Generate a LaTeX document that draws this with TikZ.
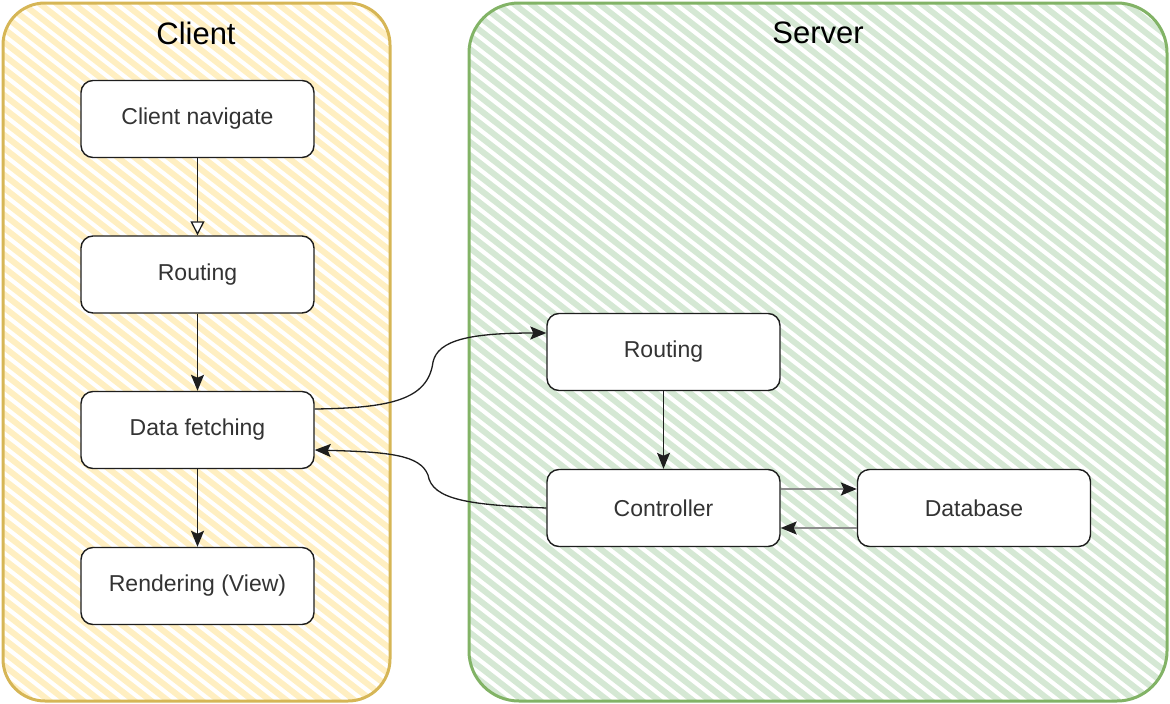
\documentclass[tikz,border=0pt]{standalone}
\usepackage{fontspec}
\setmainfont{Liberation Sans}
\usetikzlibrary{arrows.meta}
\definecolor{cborder}{HTML}{D6B656}
\definecolor{chatch}{HTML}{FFEFC2}
\definecolor{sborder}{HTML}{82B366}
\definecolor{shatch}{HTML}{D5E8D4}
\definecolor{ink}{HTML}{1E1E1E}
\definecolor{txt}{HTML}{333333}
\begin{document}
\begin{tikzpicture}[x=1pt,y=-1pt,
  box/.style={draw=ink, line width=1.4pt, rounded corners=12pt, fill=white,
    minimum width=233pt, minimum height=77pt, inner sep=0pt, text=txt,
    font=\fontsize{23}{27}\selectfont},
  title/.style={text=black, font=\fontsize{31}{35}\selectfont, inner sep=0pt},
  arr/.style={draw=ink, line width=1.3pt, -{Stealth[length=16pt,width=13pt,inset=3pt]}},
  openarr/.style={draw=ink, line width=1.3pt, -{Triangle[open,length=14pt,width=14pt,fill=white]}},
  grayarr/.style={draw=ink!50, line width=2pt, -{Stealth[length=16pt,width=13pt,inset=3pt,color=ink]}}
]
\useasboundingbox (0,0) rectangle (1170,704);
% Client container
\begin{scope}
  \clip[rounded corners=42pt] (3,3) rectangle (390,701);
  \foreach \i in {-900,-883,...,420} {
    \draw[chatch, line width=6pt] (\i,0) -- (\i+910,710);
  }
\end{scope}
\draw[cborder, line width=3pt, rounded corners=42pt] (3,3) rectangle (390,701);
% Server container
\begin{scope}
  \clip[rounded corners=50pt] (469,3) rectangle (1167,701);
  \foreach \i in {-460,-443,...,1170} {
    \draw[shatch, line width=6pt] (\i,0) -- (\i+910,710);
  }
\end{scope}
\draw[sborder, line width=3pt, rounded corners=50pt] (469,3) rectangle (1167,701);

\node[title] (ctitle) at (196,33) {Client};
\node[title] (stitle) at (818,33) {Server};

\node[box] (nav) at (197.5,119) {Client navigate};
\node[box] (rc)  at (197.5,274.5) {Routing};
\node[box] (df)  at (197.5,430) {Data fetching};
\node[box] (rv)  at (197.5,586) {Rendering (View)};
\node[box] (rs)  at (663.5,352) {Routing};
\node[box] (ct)  at (663.5,508) {Controller};
\node[box] (db)  at (974,508) {Database};

\draw[openarr] (nav) -- (rc);
\draw[arr] (rc) -- (df);
\draw[arr] (df) -- (rv);
\draw[arr] (rs) -- (ct);

\coordinate (m1) at (433,362);
\coordinate (m2) at (428,475);
\draw[arr] ([yshift=21pt]df.east) .. controls (390,408) and (428,400) .. (m1)
  .. controls (438,340) and (470,333) .. ([yshift=19pt]rs.west);
\draw[arr] (ct.west) .. controls (470,505) and (432,500) .. (m2)
  .. controls (420,455) and (390,452) .. ([yshift=-20pt]df.east);

\draw[grayarr] ([yshift=19pt]ct.east) -- ([yshift=19pt]db.west);
\draw[grayarr] ([yshift=-20pt]db.west) -- ([yshift=-20pt]ct.east);
\end{tikzpicture}
\end{document}
